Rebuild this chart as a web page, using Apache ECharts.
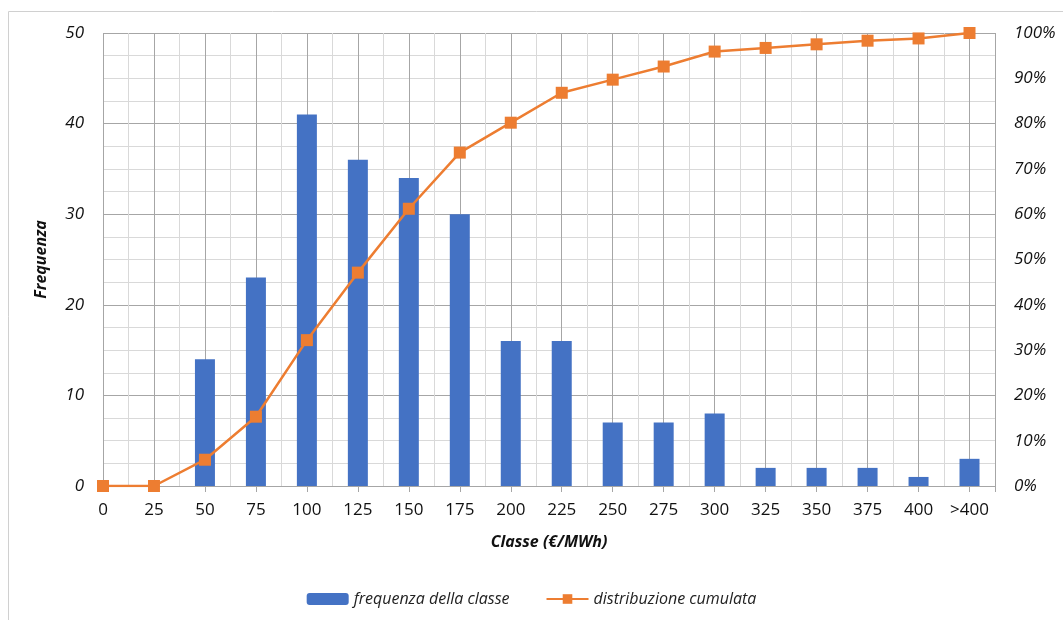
<!DOCTYPE html>
<html>
<head>
<meta charset="utf-8">
<script src="https://cdn.jsdelivr.net/npm/echarts@6/dist/echarts.min.js"></script>
<style>html,body{margin:0;padding:0;background:#fff;}#c{width:1063px;height:620px;}</style>
</head>
<body>
<div id="c"></div>
<script>
const categories = ['0','25','50','75','100','125','150','175','200','225','250','275','300','325','350','375','400','>400'];
const frequenza = [0,0,14,23,41,36,34,30,16,16,7,7,8,2,2,2,1,3];
const cumulata = [0,0,5.8,15.3,32.2,47.1,61.2,73.6,80.2,86.8,89.7,92.6,95.9,96.7,97.5,98.3,98.8,100];
const yTicksLeft = [0,10,20,30,40,50];
const yTicksRight = ['0%','10%','20%','30%','40%','50%','60%','70%','80%','90%','100%'];

const FONT = '"Open Sans", "Noto Sans", sans-serif';
const chart = echarts.init(document.getElementById('c'));
chart.setOption({
  animation: false,
  textStyle: {fontFamily: FONT},
  graphic: [{type:'rect', shape:{x:8.5,y:11.5,width:1200,height:800}, style:{fill:'none', stroke:'#d0d0d0', lineWidth:1}, silent:true, z:-10}],
  grid: {left:103, right:68, top:33, bottom:134},
  legend: {
    bottom: 8, left: 'center', itemGap: 36, itemWidth: 42, itemHeight: 12,
    textStyle: {fontFamily: FONT, fontStyle:'italic', fontSize:16, color:'#222'},
    data: [
      {name:'frequenza della classe'},
      {name:'distribuzione cumulata', itemStyle:{color:'#ED7D31'}}
    ]
  },
  xAxis: {
    type:'value', min:0, max:17.5, interval:1,
    name:'Classe (€/MWh)', nameLocation:'middle', nameGap:48,
    nameTextStyle:{fontFamily:FONT, fontStyle:'italic', fontWeight:'bold', fontSize:16, color:'#111'},
    axisLine:{show:true, lineStyle:{color:'#a6a6a6', width:1}},
    axisTick:{show:true, length:6, lineStyle:{color:'#a6a6a6'}},
    axisLabel:{margin:16, fontSize:17, color:'#111', fontFamily:FONT,
      formatter: v => Number.isInteger(v) && v < categories.length ? categories[v] : ''},
    splitLine:{show:true, lineStyle:{color:'#a6a6a6', width:1}},
    minorTick:{show:false, splitNumber:2},
    minorSplitLine:{show:true, lineStyle:{color:'#d9d9d9', width:1}}
  },
  yAxis: [{
    type:'value', min:0, max:50, interval:10,
    name:'Frequenza', nameLocation:'middle', nameGap:54,
    nameTextStyle:{fontFamily:FONT, fontStyle:'italic', fontWeight:'bold', fontSize:16, color:'#111'},
    axisLine:{show:false}, axisTick:{show:false},
    axisLabel:{margin:19, fontSize:17, fontStyle:'italic', color:'#111', fontFamily:FONT,
      formatter: v => { const i = yTicksLeft.indexOf(v); return i >= 0 ? String(yTicksLeft[i]) : ''; }},
    splitLine:{show:true, lineStyle:{color:'#a6a6a6', width:1}},
    minorTick:{show:false, splitNumber:4},
    minorSplitLine:{show:true, lineStyle:{color:'#d9d9d9', width:1}}
  },{
    type:'value', min:0, max:1, interval:0.1,
    axisLine:{show:false}, axisTick:{show:false},
    axisLabel:{margin:19, fontSize:17, fontStyle:'italic', color:'#111', fontFamily:FONT,
      formatter: v => yTicksRight[Math.round(v*10)] || ''},
    splitLine:{show:false}
  }],
  series: [{
    name:'frequenza della classe', type:'bar', yAxisIndex:0, barWidth:20,
    itemStyle:{color:'#4472C4'},
    data: frequenza.map((v,i)=>[i,v])
  },{
    name:'distribuzione cumulata', type:'line', yAxisIndex:1,
    symbol:'rect', symbolSize:12, showAllSymbol:true,
    lineStyle:{color:'#ED7D31', width:2.5},
    itemStyle:{color:'#ED7D31'},
    data: cumulata.map((v,i)=>[i,v/100]), z:5
  }]
});
</script>
</body>
</html>
